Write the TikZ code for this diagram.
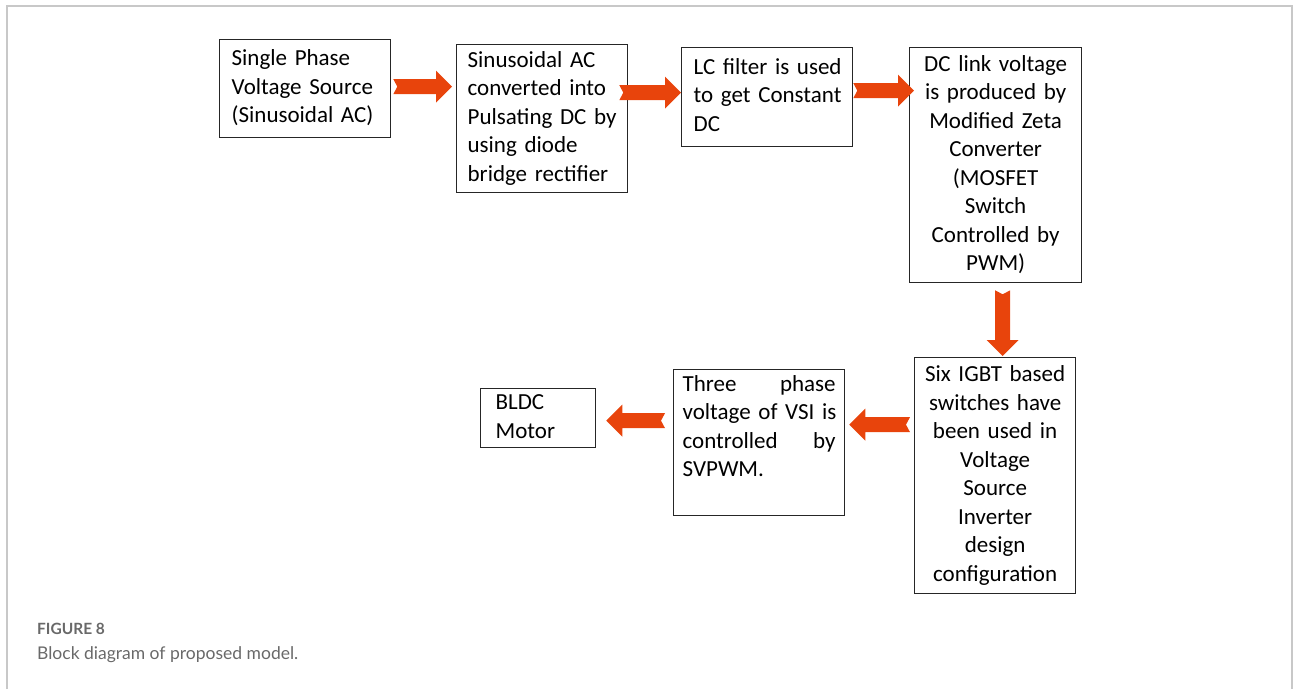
\documentclass[tikz,border=0pt]{standalone}
\usepackage{fontspec}
\setmainfont{Carlito}
\newfontfamily\captionfont{Lato}
\usetikzlibrary{calc}
\usetikzlibrary{positioning}

\definecolor{arrowred}{RGB}{232,68,12}
\definecolor{framegray}{RGB}{200,200,200}
\definecolor{captiongray}{RGB}{105,105,105}

% notched block arrow from tail #1 to tip #2
\newcommand{\flowarrow}[2]{%
\coordinate (fh) at ($(#2)!16pt!(#1)$);
\fill[arrowred] ($(#1)!7.5pt!90:(#2)$) -- ($(#1)!4pt!(#2)$) -- ($(#1)!7.5pt!-90:(#2)$)
  -- ($(fh)!7.5pt!-90:(#2)$) -- ($(fh)!16pt!-90:(#2)$) -- (#2)
  -- ($(fh)!16pt!90:(#2)$) -- ($(fh)!7.5pt!90:(#2)$) -- cycle;
}

\begin{document}
\begin{tikzpicture}[x=1pt,y=-1pt,
  box/.style={draw=black!85,line width=1.3pt,anchor=north west,inner ysep=0pt,
    font=\fontsize{23}{28.5}\selectfont,
    execute at begin node={\hyphenpenalty=10000\strut},execute at end node=\strut}]
\useasboundingbox (0,0) rectangle (1293,689);
\draw[framegray,line width=1.6pt] (7,689) -- (7,6) -- (1292,6) -- (1292,689);

\node[box,minimum width=171pt,minimum height=98pt,inner xsep=12pt,text width=147pt,align=left] (src) at (219,39) {Single Phase\\Voltage Source\\(Sinusoidal AC)};
\node[box,minimum width=171pt,minimum height=148pt,inner xsep=11pt,text width=149pt,align=left] (rect) at (456,44) {Sinusoidal AC\\converted into\\Pulsating DC by\\using diode\\bridge rectifier};
\node[box,minimum width=171pt,minimum height=99pt,inner xsep=12pt,text width=147pt,align=left] (filter) at (681,47) {\mbox{LC filter is used}\\\mbox{to get Constant}\\DC};
\node[box,minimum width=172pt,minimum height=235pt,inner xsep=8pt,text width=156pt,align=center] (zeta) at (909,47) {DC link voltage\\is produced by\\Modified Zeta\\Converter\\(MOSFET\\Switch\\Controlled by\\PWM)};
\node[box,minimum width=161pt,minimum height=236pt,inner xsep=6pt,text width=149pt,align=center] (vsi) at (914,357) {Six IGBT based\\switches have\\been used in\\Voltage\\Source\\Inverter\\design\\configuration};
\node[box,minimum width=171pt,minimum height=146pt,inner xsep=9pt,text width=153pt,align=left] (svpwm) at (673,369) {Three\hfill phase\\\mbox{voltage of VSI is}\\controlled\hfill by\\SVPWM.\\};
\node[box,minimum width=115pt,minimum height=59pt,inner xsep=15pt,text width=85pt,align=left] (motor) at (480,388) {BLDC\\Motor};

\coordinate (a1t) at ([xshift=2pt,yshift=2pt]src.east);
\coordinate (a1h) at ([xshift=-4pt]a1t -| rect.west);
\coordinate (a2h) at ([yshift=4.5pt]filter.west);
\coordinate (a2t) at ([xshift=-9pt]a2h -| rect.east);
\coordinate (a3t) at ([yshift=6.5pt]filter.east);
\coordinate (a3h) at ([xshift=5pt]a3t -| zeta.west);
\coordinate (a4t) at ([xshift=7pt,yshift=-7pt]zeta.south);
\coordinate (a4h) at ([yshift=1pt]a4t |- vsi.north);
\coordinate (a5t) at ([xshift=-4pt,yshift=18pt]vsi.west |- svpwm.west);
\coordinate (a5h) at ([xshift=4pt]a5t -| svpwm.east);
\coordinate (a6h) at ([xshift=10pt,yshift=-2.5pt]motor.east);
\coordinate (a6t) at ([xshift=-8pt]a6h -| svpwm.west);
\flowarrow{a1t}{a1h}
\flowarrow{a2t}{a2h}
\flowarrow{a3t}{a3h}
\flowarrow{a4t}{a4h}
\flowarrow{a5t}{a5h}
\flowarrow{a6t}{a6h}

\node[anchor=base west,inner sep=0pt,text=captiongray,font=\captionfont\bfseries\fontsize{15.5}{18}\selectfont] (fig) at (37,634) {FIGURE 8};
\node[anchor=base west,inner sep=0pt,text=captiongray,font=\captionfont\fontsize{17.5}{20}\selectfont] (cap) at (37,659) {Block diagram of proposed model.};
\end{tikzpicture}
\end{document}
